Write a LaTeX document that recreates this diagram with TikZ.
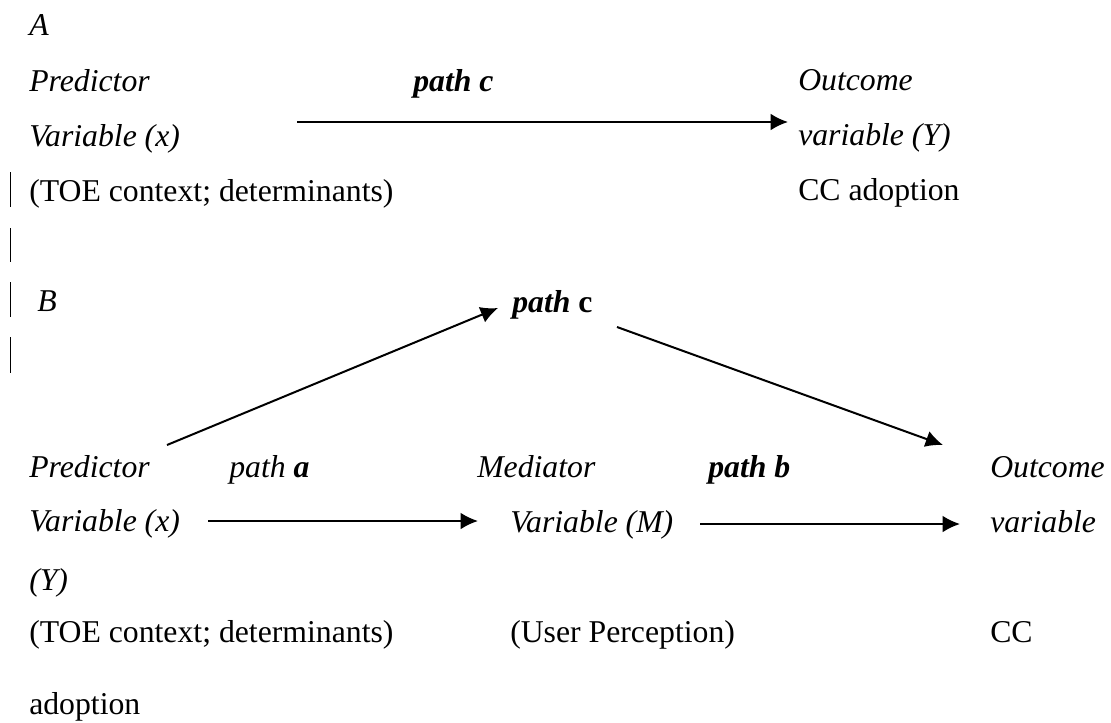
\documentclass[tikz,border=0pt]{standalone}
\usepackage{fontspec}
\setmainfont{Liberation Serif}
\usetikzlibrary{arrows.meta}

\tikzset{
  txt/.style={anchor=base west,inner sep=0pt,font=\fontsize{23.8}{28}\selectfont},
  itxt/.style={txt,font=\fontsize{23.8}{28}\selectfont\itshape},
  pathlbl/.style={txt,font=\fontsize{23.8}{28}\selectfont\bfseries\itshape},
  conn/.style={-{Latex[length=13pt,width=12.5pt]},line width=1.5pt},
  bar/.style={line width=0.6pt}
}

\begin{document}
\begin{tikzpicture}[x=0.75pt,y=-0.75pt]
        \useasboundingbox (0,0) rectangle (1111,722);
        % A: direct path
        \node[itxt] (labA) at (29,35) {A};
        \node[itxt] (predA1) at (29,91) {Predictor};
        \node[itxt] (predA2) at (29,146) {Variable (x)};
        \node[txt] (predA3) at (29,201) {(TOE context; determinants)};
        \node[pathlbl] (pathcA) at (413,91) {path c};
        \node[itxt] (outA1) at (798,90) {Outcome};
        \node[itxt] (outA2) at (798,145) {variable (Y)};
        \node[txt] (outA3) at (798,200) {CC adoption};
        \coordinate (cA1) at (297,122);
        \coordinate (cA2) at (788,122);
        \draw[conn] (cA1) -- (cA2);
        % margin bars
        \draw[bar] (10,172) -- (10,207);
        \draw[bar] (10,228) -- (10,262);
        \draw[bar] (10,282) -- (10,317);
        \draw[bar] (10,337) -- (10,373);
        % B: mediated path
        \node[itxt] (labB) at (37,311) {B};
        \node[txt] (pathcB) at (512,312) {\bfseries\itshape path \upshape c};
        \node[itxt] (predB1) at (29,477) {Predictor};
        \node[itxt] (predB2) at (29,531) {Variable (x)};
        \node[itxt] (predB3) at (29,590) {(Y)};
        \node[txt] (predB4) at (29,642) {(TOE context; determinants)};
        \node[txt] (predB5) at (29,714) {adoption};
        \node[itxt] (pathaB) at (229,477) {path \bfseries a};
        \node[itxt] (medB1) at (477,477) {Mediator};
        \node[itxt] (medB2) at (510,532) {Variable (M)};
        \node[txt] (medB3) at (510,642) {(User Perception)};
        \node[pathlbl] (pathbB) at (708,477) {path b};
        \node[itxt] (outB1) at (990,477) {Outcome};
        \node[itxt] (outB2) at (990,532) {variable};
        \node[txt] (outB3) at (990,642) {CC};
        \coordinate (cB1) at (167,445);
        \coordinate (cB2) at (498,308);
        \coordinate (cB3) at (617,327);
        \coordinate (cB4) at (943,445);
        \coordinate (cB5) at (208,521);
        \coordinate (cB6) at (478,521);
        \coordinate (cB7) at (700,524);
        \coordinate (cB8) at (960,524);
        \draw[conn] (cB1) -- (cB2);
        \draw[conn] (cB3) -- (cB4);
        \draw[conn] (cB5) -- (cB6);
        \draw[conn] (cB7) -- (cB8);
\end{tikzpicture}
\end{document}
